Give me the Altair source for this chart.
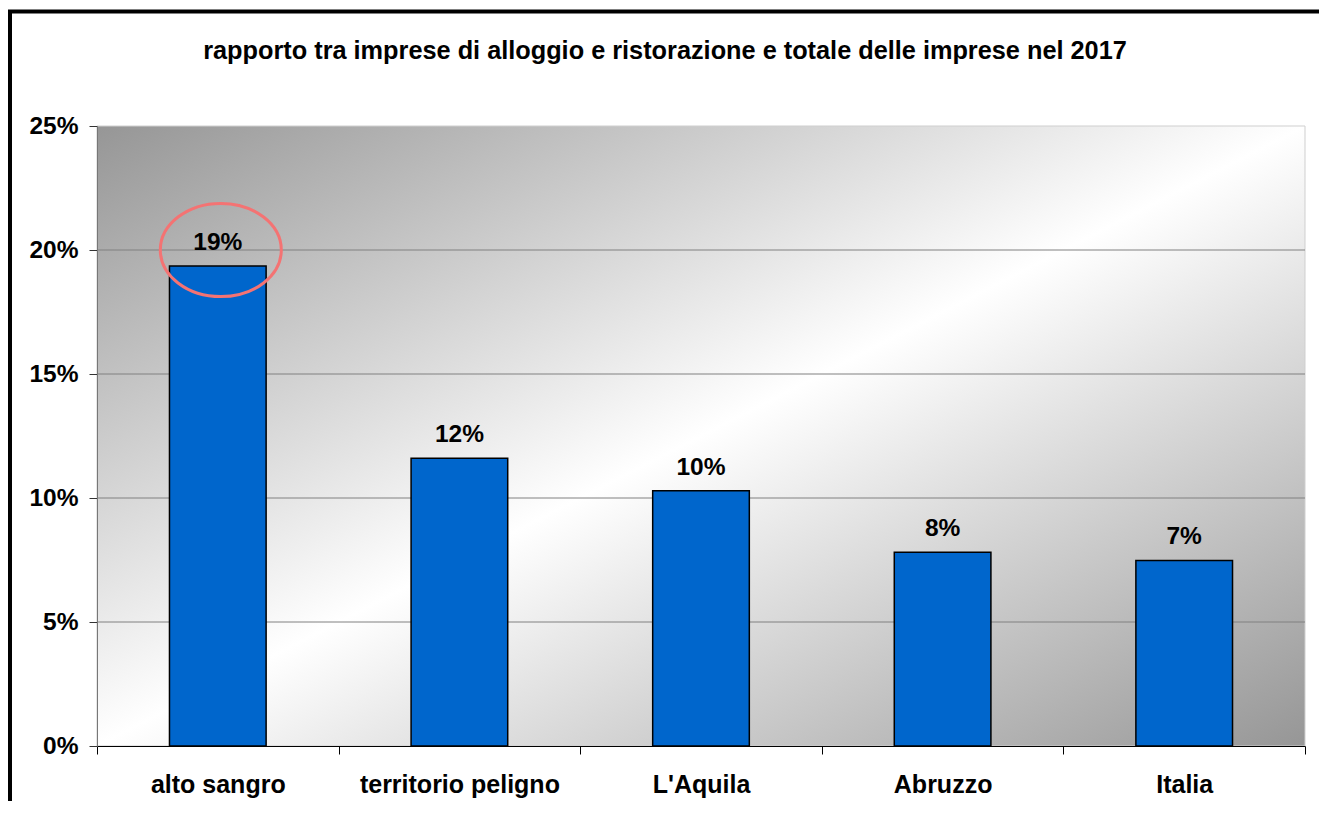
import altair as alt
import pandas as pd

categories = ["alto sangro", "territorio peligno", "L'Aquila", "Abruzzo", "Italia"]
shares = [0.1935, 0.116, 0.1029, 0.0781, 0.0748]
y_ticks = [0, 0.05, 0.10, 0.15, 0.20, 0.25]
grid_values = [0.05, 0.10, 0.15, 0.20]
highlight_category = ["alto sangro"]
highlight_center = [0.20]
title_text = "rapporto tra imprese di alloggio e ristorazione e totale delle imprese nel 2017"

W, H = 1208, 620
FONT = "Liberation Sans"

df = pd.DataFrame({"cat": categories, "share": shares})
grid_df = pd.DataFrame({"g": grid_values})
hl_df = pd.DataFrame({"cat": highlight_category, "y": highlight_center})
one = pd.DataFrame({"k": [0]})

x_axis = alt.Axis(title=None, labelFont=FONT, labelFontSize=25, labelFontWeight="bold",
                  labelColor="black", labelAngle=0, labelPadding=18, labelLimit=500,
                  tickSize=8, tickColor="black", domainColor="black", tickBand="extent",
                  zindex=1, grid=False)
x_scale = alt.Scale(paddingInner=0, paddingOuter=0)
y_scale = alt.Scale(domain=[0, 0.25], nice=False)
y_axis = alt.Axis(title=None, values=y_ticks, format=".0%", labelFont=FONT, labelFontSize=24.5,
                  labelFontWeight="bold", labelColor="black", labelPadding=11, tickSize=8,
                  tickColor="#333333", domainColor="#777777", zindex=1, grid=False)

def X(field):
    return alt.X(field, sort=categories, scale=x_scale, axis=x_axis)

def Y(field):
    return alt.Y(field, scale=y_scale, axis=y_axis)

bg = alt.Chart(one).mark_rect(
    color=alt.LinearGradient(
        gradient="linear", x1=0, y1=0, x2=1, y2=1,
        stops=[alt.GradientStop(color="#969696", offset=0),
               alt.GradientStop(color="#ffffff", offset=0.5),
               alt.GradientStop(color="#969696", offset=1)]),
    stroke="#cfcfcf", strokeWidth=1,
).encode(x=alt.value(0), x2=alt.value(W), y=alt.value(0), y2=alt.value(H))

grid = alt.Chart(grid_df).mark_rule(color="#808080", strokeWidth=1).encode(y=Y("g:Q"))

bars = alt.Chart(df).mark_bar(color="#0066CC", stroke="black", strokeWidth=1.5,
                              width=alt.RelativeBandSize(0.4)).encode(
    x=X("cat:N"), y=Y("share:Q"))

labels = alt.Chart(df).mark_text(font=FONT, fontSize=24.5, fontWeight="bold", color="black",
                                 baseline="alphabetic", dy=-16).encode(
    x=X("cat:N"), y=Y("share:Q"), text=alt.Text("share:Q", format=".0%"))

ellipse = alt.Chart(hl_df).mark_point(
    shape="M -1 0 A 1 0.77 0 1 0 1 0 A 1 0.77 0 1 0 -1 0 Z",
    filled=False, stroke="#F47373", strokeWidth=3, size=121 * 121, opacity=1, xOffset=3,
).encode(x=X("cat:N"), y=Y("y:Q"))

title = alt.Chart(one).mark_text(font=FONT, fontSize=25.3, fontWeight="bold", color="black",
                                 align="center", baseline="alphabetic", text=title_text).encode(
    x=alt.value(568), y=alt.value(-67))

frame = alt.Chart(one).mark_rect(filled=False, stroke="black", strokeWidth=4).encode(
    x=alt.value(-87), x2=alt.value(1224), y=alt.value(-114.5), y2=alt.value(800))

chart = alt.layer(bg, grid, bars, labels, ellipse, title, frame).properties(
    width=W, height=H,
    autosize=alt.AutoSizeParams(type="none"),
    padding={"left": 89, "top": 118, "right": 14, "bottom": 55},
).configure_view(stroke="transparent")

chart.save("out.html", embed_options={"renderer": "svg", "actions": False})
